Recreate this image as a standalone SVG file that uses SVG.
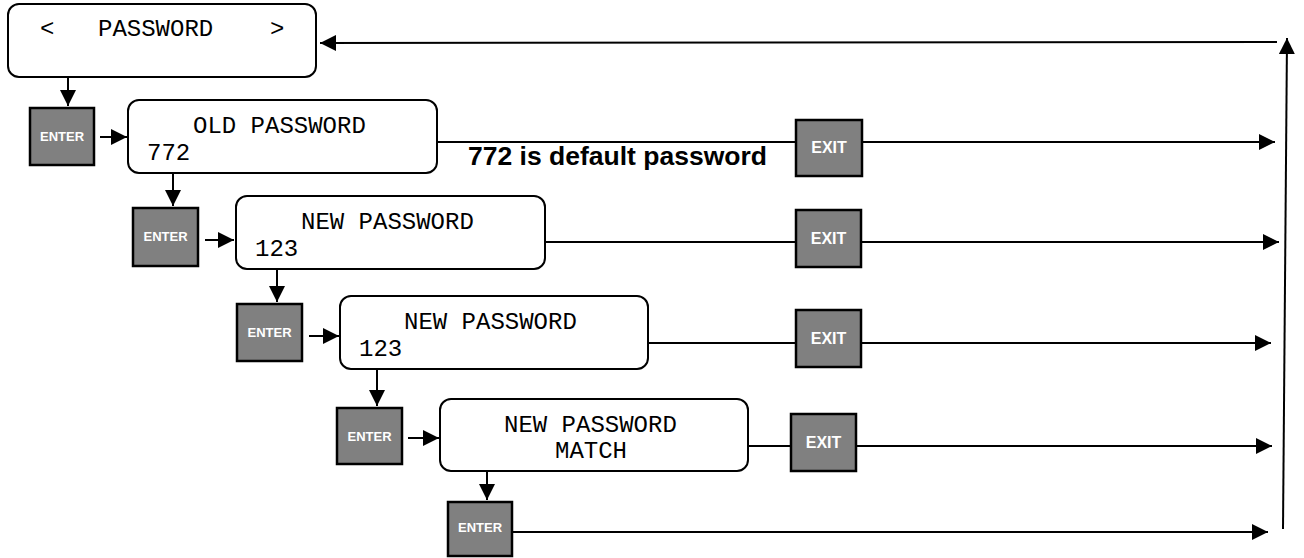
<svg xmlns="http://www.w3.org/2000/svg" width="1304" height="558" viewBox="0 0 1304 558">
<style>
.lcd{fill:#fff;stroke:#000;stroke-width:2}
.mono{font-family:"Liberation Mono","Courier New",monospace;font-size:24px;fill:#000}
.key{fill:#808080;stroke:#000;stroke-width:2.5}
.kt{font-family:"Liberation Sans",Arial,sans-serif;font-weight:bold;fill:#fff;text-anchor:middle}
.ent{font-size:13px}
.ext{font-size:16px}
.ln{fill:none;stroke:#000;stroke-width:2}
.arr{marker-end:url(#ah)}
.note{font-family:"Liberation Sans",Arial,sans-serif;font-weight:bold;font-size:26.5px;fill:#000}
</style>
<defs>
<marker id="ah" markerUnits="userSpaceOnUse" markerWidth="16" markerHeight="16" refX="16" refY="8" orient="auto">
<path d="M0,0 L16,8 L0,16 z" fill="#000"/>
</marker>
</defs>
<rect width="1304" height="558" fill="#fff"/>
<g id="connectors">
<path class="ln arr" d="M68,77 V106"/>
<path class="ln arr" d="M100,137 H127"/>
<path class="ln arr" d="M173,173 V206"/>
<path class="ln arr" d="M205,240 H234"/>
<path class="ln arr" d="M277,269 V302"/>
<path class="ln arr" d="M309,336 H339"/>
<path class="ln arr" d="M377,369 V406"/>
<path class="ln arr" d="M408,438 H439"/>
<path class="ln arr" d="M487,471 V500"/>
<path class="ln arr" d="M436,142 H1275"/>
<path class="ln arr" d="M545,242 H1279"/>
<path class="ln arr" d="M648,343 H1271"/>
<path class="ln arr" d="M748,446 H1272"/>
<path class="ln arr" d="M512,532 H1268"/>
<path class="ln arr" d="M1283,529 L1287,38"/>
<path class="ln arr" d="M1277,42 L320,43"/>
</g>
<g id="n-password">
<rect class="lcd" x="8" y="4" width="308" height="73" rx="11"/>
<text class="mono" x="40" y="36">&lt;</text>
<text class="mono" x="98" y="36">PASSWORD</text>
<text class="mono" x="270" y="36">&gt;</text>
</g>
<g id="n-enter1"><rect class="key" x="30" y="108" width="64" height="57"/><text class="kt ent" x="62" y="141">ENTER</text></g>
<g id="n-old"><rect class="lcd" x="128" y="100" width="309" height="73" rx="11"/>
<text class="mono" x="193" y="133">OLD PASSWORD</text>
<text class="mono" x="147" y="160">772</text></g>
<g id="n-note"><text class="note" x="468" y="165">772 is default password</text></g>
<g id="n-exit1"><rect class="key" x="796" y="120" width="66" height="56"/><text class="kt ext" x="829" y="153">EXIT</text></g>
<g id="n-enter2"><rect class="key" x="133" y="208" width="65" height="58"/><text class="kt ent" x="165.5" y="241">ENTER</text></g>
<g id="n-new1"><rect class="lcd" x="236" y="196" width="309" height="73" rx="11"/>
<text class="mono" x="301" y="229">NEW PASSWORD</text>
<text class="mono" x="255" y="256">123</text></g>
<g id="n-exit2"><rect class="key" x="796" y="210" width="65" height="57"/><text class="kt ext" x="828.5" y="244">EXIT</text></g>
<g id="n-enter3"><rect class="key" x="237" y="304" width="65" height="57"/><text class="kt ent" x="269.5" y="337">ENTER</text></g>
<g id="n-new2"><rect class="lcd" x="340" y="296" width="308" height="73" rx="11"/>
<text class="mono" x="404" y="329">NEW PASSWORD</text>
<text class="mono" x="359" y="356">123</text></g>
<g id="n-exit3"><rect class="key" x="796" y="310" width="65" height="57"/><text class="kt ext" x="828.5" y="344">EXIT</text></g>
<g id="n-enter4"><rect class="key" x="337" y="408" width="65" height="56"/><text class="kt ent" x="369.5" y="441">ENTER</text></g>
<g id="n-match"><rect class="lcd" x="440" y="399" width="308" height="72" rx="11"/>
<text class="mono" x="504" y="432">NEW PASSWORD</text>
<text class="mono" x="555" y="458">MATCH</text></g>
<g id="n-exit4"><rect class="key" x="791" y="414" width="65" height="57"/><text class="kt ext" x="823.5" y="448">EXIT</text></g>
<g id="n-enter5"><rect class="key" x="448" y="502" width="64" height="54"/><text class="kt ent" x="480" y="532">ENTER</text></g>
</svg>
